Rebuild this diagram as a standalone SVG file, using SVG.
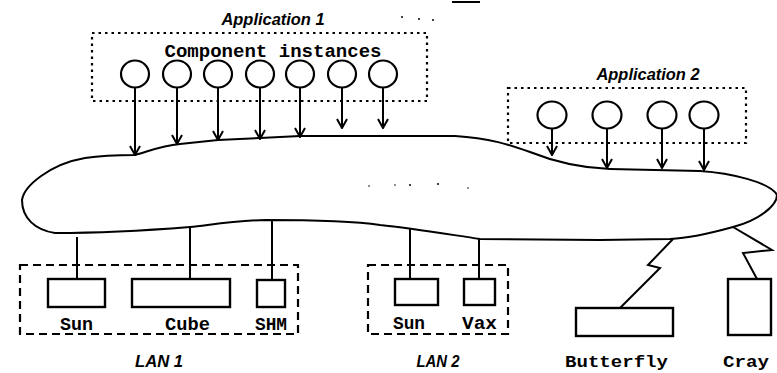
<svg xmlns="http://www.w3.org/2000/svg" width="777" height="373" viewBox="0 0 777 373">
<defs>
<style>
.ln{fill:none;stroke:#000;stroke-width:2}
.dot{fill:none;stroke:#000;stroke-width:2.2;stroke-dasharray:2.5 4}
.dash{fill:none;stroke:#000;stroke-width:2.2;stroke-dasharray:8 5}
.box{fill:#fff;stroke:#000;stroke-width:2.4}
.ci{fill:#fff;stroke:#000;stroke-width:2.2}
.mono{font-family:"Liberation Mono","Courier New",monospace;font-weight:bold;font-size:18px;fill:#000}
.sm{font-size:16px}
.ital{font-family:"Liberation Sans",Arial,sans-serif;font-style:italic;font-weight:bold;font-size:16px;fill:#000}
.arr{fill:none;stroke:#000;stroke-width:2;marker-end:url(#ah)}
</style>
<marker id="ah" viewBox="0 0 12 12" refX="11" refY="6" markerWidth="12" markerHeight="12" markerUnits="userSpaceOnUse" orient="auto">
<path d="M2,1 L11,6 L2,11" fill="none" stroke="#000" stroke-width="2"/>
</marker>
</defs>
<rect width="777" height="373" fill="#fff"/>

<!-- scan marks -->
<g id="marks" fill="#000">
<rect x="452" y="1" width="28" height="2"/>
<circle cx="402" cy="17" r="1"/><circle cx="419" cy="19" r="1"/><circle cx="433" cy="20" r="1"/>
<circle cx="369" cy="186" r="0.8"/><circle cx="395" cy="185" r="0.8"/><circle cx="410" cy="185" r="1"/><circle cx="438" cy="184" r="1"/><circle cx="468" cy="188" r="0.8"/>
</g>

<!-- network blob -->
<g id="network">
<path class="ln" d="M22,200 C24,186 50,164 85,158 C105,155 125,155 135,155 C150,151 160,146 180,144 L218,140 L260,138 L300,136 L455,136 C490,138 510,145 530,152 C555,162 580,168 610,169 L700,171 C730,173 770,182 777,195 C777,205 760,220 733,227 C715,232 690,238 670,239 L600,240 L480,239 C440,233 410,228 380,225 C360,222 330,220 265,220 C230,221 210,225 190,227 C140,231 100,233 55,233 C35,230 22,218 22,200 Z"/>
</g>

<!-- Application 1 -->
<g id="app1">
<rect class="dot" x="92" y="33" width="335" height="68"/>
<text class="ital" x="273" y="25" text-anchor="middle" textLength="103" lengthAdjust="spacingAndGlyphs">Application 1</text>
<text class="mono" x="273" y="57" text-anchor="middle" textLength="217" lengthAdjust="spacingAndGlyphs">Component instances</text>
<ellipse class="ci" cx="135" cy="74" rx="14" ry="13.5"/>
<ellipse class="ci" cx="177" cy="74" rx="14" ry="13.5"/>
<ellipse class="ci" cx="218" cy="74" rx="14" ry="13.5"/>
<ellipse class="ci" cx="260" cy="74" rx="14" ry="13.5"/>
<ellipse class="ci" cx="300" cy="74" rx="14" ry="13.5"/>
<ellipse class="ci" cx="342" cy="74" rx="14" ry="13.5"/>
<ellipse class="ci" cx="383" cy="74" rx="14" ry="13.5"/>
</g>

<!-- Application 2 -->
<g id="app2">
<rect class="dot" x="508" y="88" width="238" height="55"/>
<text class="ital" x="648" y="80" text-anchor="middle" textLength="103" lengthAdjust="spacingAndGlyphs">Application 2</text>
<ellipse class="ci" cx="552" cy="115" rx="14.5" ry="13.5"/>
<ellipse class="ci" cx="607" cy="115" rx="14.5" ry="13.5"/>
<ellipse class="ci" cx="662" cy="115" rx="14.5" ry="13.5"/>
<ellipse class="ci" cx="704" cy="115" rx="14.5" ry="13.5"/>
</g>

<!-- LAN 1 -->
<g id="lan1">
<rect class="dash" x="20" y="265" width="278" height="69"/>
<rect class="box" x="48" y="279" width="57" height="28"/>
<rect class="box" x="132" y="279" width="98" height="28"/>
<rect class="box" x="257" y="280" width="28" height="27"/>
<text class="mono" x="76.5" y="330" text-anchor="middle" textLength="33" lengthAdjust="spacingAndGlyphs">Sun</text>
<text class="mono" x="187.5" y="330" text-anchor="middle" textLength="45" lengthAdjust="spacingAndGlyphs">Cube</text>
<text class="mono" x="271" y="330" text-anchor="middle" textLength="32" lengthAdjust="spacingAndGlyphs">SHM</text>
<text class="ital" x="159" y="367" text-anchor="middle" textLength="48" lengthAdjust="spacingAndGlyphs">LAN 1</text>
</g>

<!-- LAN 2 -->
<g id="lan2">
<rect class="dash" x="368" y="265" width="140" height="69"/>
<rect class="box" x="395" y="279" width="43" height="26"/>
<rect class="box" x="464" y="279" width="31" height="26"/>
<text class="mono" x="409" y="329" text-anchor="middle" textLength="32" lengthAdjust="spacingAndGlyphs">Sun</text>
<text class="mono" x="479.5" y="329" text-anchor="middle" textLength="35" lengthAdjust="spacingAndGlyphs">Vax</text>
<text class="ital" x="438" y="367" text-anchor="middle" textLength="43" lengthAdjust="spacingAndGlyphs">LAN 2</text>
</g>

<!-- Butterfly -->
<g id="butterfly">
<rect class="box" x="576" y="308" width="97" height="28"/>
<text class="mono sm" x="616.5" y="367" text-anchor="middle" textLength="103" lengthAdjust="spacingAndGlyphs">Butterfly</text>
</g>

<!-- Cray -->
<g id="cray">
<rect class="box" x="728" y="279" width="43" height="56"/>
<text class="mono sm" x="723" y="367" textLength="46" lengthAdjust="spacingAndGlyphs">Cray</text>
</g>

<!-- connectors -->
<g id="connectors">
<line class="arr" x1="135" y1="88" x2="135" y2="155"/>
<line class="arr" x1="177" y1="88" x2="177" y2="144"/>
<line class="arr" x1="218" y1="88" x2="218" y2="140"/>
<line class="arr" x1="260" y1="88" x2="260" y2="139"/>
<line class="arr" x1="300" y1="88" x2="300" y2="137"/>
<line class="arr" x1="342" y1="88" x2="342" y2="128"/>
<line class="arr" x1="383" y1="88" x2="383" y2="128"/>
<line class="arr" x1="552" y1="129" x2="552" y2="155"/>
<line class="arr" x1="607" y1="129" x2="607" y2="168"/>
<line class="arr" x1="662" y1="129" x2="662" y2="168"/>
<line class="arr" x1="704" y1="129" x2="704" y2="170"/>
<line class="ln" x1="77" y1="237" x2="77" y2="279"/>
<line class="ln" x1="190" y1="227" x2="190" y2="279"/>
<line class="ln" x1="272" y1="221" x2="272" y2="280"/>
<line class="ln" x1="410" y1="229" x2="410" y2="279"/>
<line class="ln" x1="479" y1="238" x2="479" y2="279"/>
<polyline class="ln" points="673,239 648,265 660,268 620,308"/>
<polyline class="ln" points="733,227 772,250 743,253 757,279"/>
</g>
</svg>
